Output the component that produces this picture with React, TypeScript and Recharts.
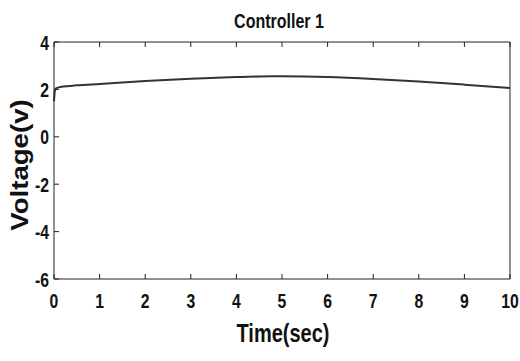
import React from 'react';
import { LineChart, Line, XAxis, YAxis } from 'recharts';

const times = [0, 0.02, 0.05, 0.2, 0.5, 1, 2, 3, 4, 4.8, 5, 6, 7, 8, 9, 10];
const voltage = [1.5, 1.95, 2.05, 2.12, 2.17, 2.23, 2.35, 2.45, 2.52, 2.55, 2.55, 2.52, 2.44, 2.33, 2.2, 2.06];
const xTicks = [0, 1, 2, 3, 4, 5, 6, 7, 8, 9, 10];
const yTicks = [-6, -4, -2, 0, 2, 4];

const data = times.map((t, i) => ({ t, v: voltage[i] }));

const font = '"Liberation Sans", Arial, sans-serif';
const textStyle = { fontFamily: font, fontWeight: 700, fill: '#111' };

// squeezed bold text, to look like the narrow font of the original
const BottomTick = (props: any) => (
  <text
    transform={`translate(${props.x},${props.y}) scale(0.75,1)`}
    textAnchor='middle'
    dy='0.71em'
    fontSize={21}
    style={textStyle}
  >
    {props.payload.value}
  </text>
);

const LeftTick = (props: any) => (
  <text
    transform={`translate(${props.x},${props.y}) scale(0.75,1)`}
    textAnchor='end'
    dy='0.36em'
    fontSize={21}
    style={textStyle}
  >
    {props.payload.value}
  </text>
);

const App = () => (
  <div style={{ position: 'absolute', left: 0, top: 0, background: '#fff' }}>
    <LineChart width={520} height={361} data={data} margin={{ top: 41, right: 9, bottom: 0, left: 0 }}>
      <text transform='translate(279,28) scale(0.8,1)' textAnchor='middle' fontSize={20} style={textStyle}>
        Controller 1
      </text>
      <text transform='translate(283,342) scale(0.8,1)' textAnchor='middle' fontSize={25} style={textStyle}>
        Time(sec)
      </text>
      <text transform='translate(28,165) rotate(-90) scale(1.15,1)' textAnchor='middle' fontSize={24} style={textStyle}>
        Voltage(v)
      </text>
      <XAxis
        dataKey='t'
        type='number'
        domain={[0, 10]}
        ticks={xTicks}
        height={82}
        tickSize={-5}
        tickMargin={19}
        stroke='#222'
        tick={<BottomTick />}
        interval={0}
      />
      <XAxis
        xAxisId='top'
        orientation='top'
        dataKey='t'
        type='number'
        domain={[0, 10]}
        ticks={xTicks}
        height={1}
        tickSize={-5}
        stroke='#222'
        tickFormatter={() => ''}
      />
      <YAxis
        domain={[-6, 4]}
        ticks={yTicks}
        width={54}
        tickSize={-5}
        tickMargin={10}
        stroke='#222'
        tick={<LeftTick />}
        interval={0}
      />
      <YAxis
        yAxisId='right'
        orientation='right'
        domain={[-6, 4]}
        ticks={yTicks}
        width={1}
        tickSize={-5}
        stroke='#222'
        tickFormatter={() => ''}
      />
      <Line type='monotone' dataKey='v' stroke='#333' strokeWidth={2} dot={false} isAnimationActive={false} />
    </LineChart>
  </div>
);

export default App;
